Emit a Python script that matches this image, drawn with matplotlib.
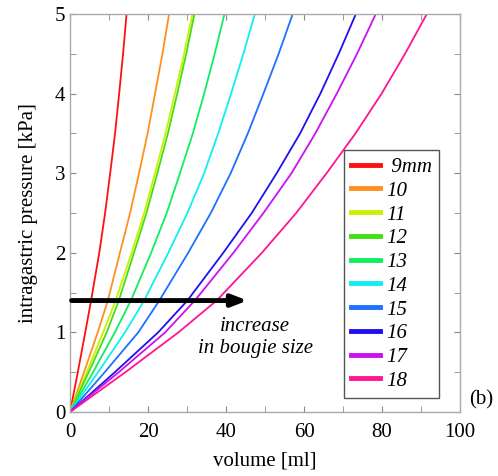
import matplotlib
matplotlib.use("Agg")
import matplotlib.pyplot as plt
from matplotlib.ticker import MultipleLocator

plt.rcParams['font.family'] = ['Liberation Serif', 'DejaVu Serif']

pressure = [0, 0.5, 1, 1.4, 2, 2.5, 3, 3.5, 4, 4.5, 5]

# volumes [ml] for each bougie size at the pressures above
labels = [" 9mm", "10", "11", "12", "13", "14", "15", "16", "17", "18"]
vol_9 = [0, 2.0, 3.9, 5.4, 7.5, 9.0, 10.3, 11.55, 12.6, 13.6, 14.5]
vol_10 = [0, 3.6, 7.1, 9.7, 12.8, 15.4, 17.7, 19.9, 21.8, 23.7, 25.4]
vol_11 = [0, 4.3, 8.5, 11.7, 15.8, 19.0, 21.8, 24.5, 26.9, 29.25, 31.4]
vol_12 = [0, 4.8, 9.4, 12.5, 16.4, 19.6, 22.4, 25.1, 27.5, 29.8, 31.9]
vol_13 = [0, 5.9, 11.5, 15.6, 20.8, 24.8, 28.2, 31.5, 34.4, 37.1, 39.6]
vol_14 = [0, 7.2, 14.1, 19.0, 25.2, 30.1, 34.4, 38.0, 41.3, 44.45, 47.4]
vol_15 = [0, 8.9, 17.5, 22.9, 30.3, 36.1, 41.2, 45.6, 49.6, 53.5, 57.1]
vol_16 = [0, 11.5, 22.6, 30.1, 39.3, 46.6, 53.0, 59.0, 64.2, 68.9, 73.3]
vol_17 = [0, 12.5, 24.4, 32.0, 41.9, 49.6, 56.8, 62.9, 68.4, 73.6, 78.4]
vol_18 = [0, 14.2, 27.8, 37.6, 49.2, 58.0, 65.8, 73.2, 79.9, 85.9, 91.5]
volumes = [vol_9, vol_10, vol_11, vol_12, vol_13, vol_14, vol_15, vol_16, vol_17, vol_18]

colors = ['#ff1010', '#ff9020', '#c8f000', '#40e010', '#10ee60',
          '#10eef0', '#1e70ff', '#2010ee', '#cc10f0', '#ff1493']

fig = plt.figure(figsize=(4.98, 4.76), dpi=100)
ax = fig.add_axes([0.1406, 0.1345, 0.7831, 0.8361])

handles = []
for v, lab, c in zip(volumes, labels, colors):
    h, = ax.plot(v, pressure, color=c, lw=1.3, label=lab)
    handles.append(h)

ax.set_xlim(0, 100)
ax.set_ylim(0, 5)
ax.xaxis.set_major_locator(MultipleLocator(20))
ax.xaxis.set_minor_locator(MultipleLocator(10))
ax.yaxis.set_major_locator(MultipleLocator(1))
ax.yaxis.set_minor_locator(MultipleLocator(0.5))
ax.tick_params(which='both', direction='in', top=True, right=True,
               color='#888888', labelsize=15, length=4)
ax.tick_params(axis='x', pad=8)
for s in ax.spines.values():
    s.set_color('#aaaaaa')
    s.set_linewidth(1.0)

ax.set_xlabel("volume [ml]", fontsize=15, labelpad=7)
ax.set_ylabel("intragastric pressure [kPa]", fontsize=15, labelpad=12)

leg = ax.legend(handles=handles, loc='lower left', bbox_to_anchor=(0.703, 0.035),
                borderaxespad=0, fancybox=False, edgecolor='#555555',
                framealpha=1, prop={'style': 'italic', 'size': 15},
                labelspacing=0.2, handlelength=1.35, handletextpad=0.3,
                borderpad=0.35)
leg.get_frame().set_linewidth(1.0)
for lh in leg.get_lines():
    lh.set_linewidth(3.5)

ax.annotate("", xy=(45.5, 1.4), xytext=(0.4, 1.4),
            arrowprops=dict(arrowstyle='-|>,head_length=0.9,head_width=0.35',
                            color='black', lw=3.5, shrinkA=0, shrinkB=0))
ax.text(47.5, 0.94, "increase\nin bougie size", fontsize=15, style='italic',
        ha='center', va='center', linespacing=1.2)

fig.text(0.943, 0.16, "(b)", fontsize=15, ha='left', va='center')

fig.savefig("out.png", dpi=100)
